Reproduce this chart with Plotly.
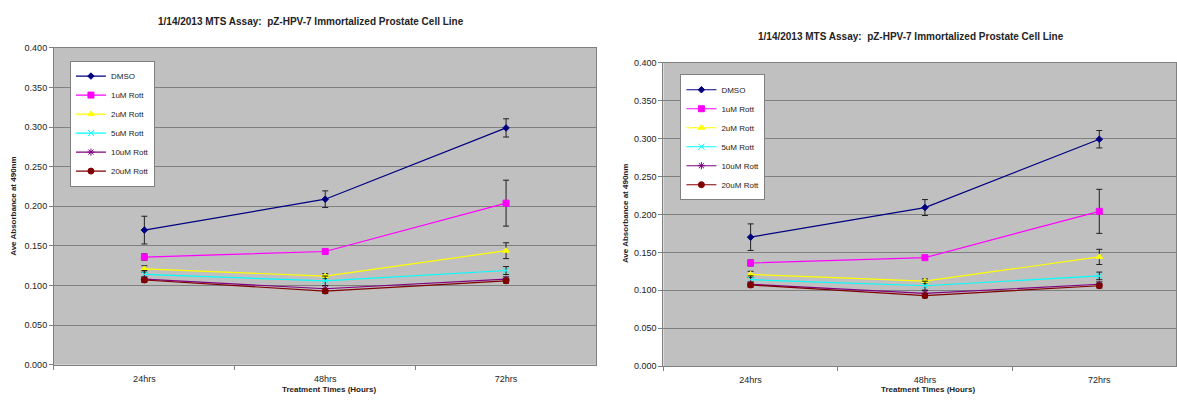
import plotly.graph_objects as go

categories = ["24hrs", "48hrs", "72hrs"]
series_names = ["DMSO", "1uM Rott", "2uM Rott", "5uM Rott", "10uM Rott", "20uM Rott"]
dmso = [0.170, 0.209, 0.299]
rott_1uM = [0.136, 0.143, 0.204]
rott_2uM = [0.121, 0.112, 0.144]
rott_5uM = [0.114, 0.106, 0.119]
rott_10uM = [0.108, 0.096, 0.108]
rott_20uM = [0.107, 0.093, 0.106]
err_dmso = [0.0175, 0.0105, 0.0115]
err_1uM = [0.004, 0.002, 0.029]
err_2uM = [0.004, 0.003, 0.010]
err_5uM = [0.005, 0.006, 0.005]
err_10uM = [0.003, 0.004, 0.003]
err_20uM = [0.003, 0.003, 0.003]
y_ticks = [0.0, 0.05, 0.1, 0.15, 0.2, 0.25, 0.3, 0.35, 0.4]

values = [dmso, rott_1uM, rott_2uM, rott_5uM, rott_10uM, rott_20uM]
errors = [err_dmso, err_1uM, err_2uM, err_5uM, err_10uM, err_20uM]
colors = ["#000080", "#FF00FF", "#FFFF00", "#00FFFF", "#800080", "#800000"]
symbols = ["diamond", "square", "triangle-up", "x-thin-open", "asterisk-open", "circle"]
sizes = [5, 6, 6, 6, 6, 6]

W, H = 1177, 400
FONT = "Liberation Sans, Arial, sans-serif"

fig = go.Figure()
for panel, (xa, ya, lg) in enumerate([("x", "y", "legend"), ("x2", "y2", "legend2")]):
    for name, v, e, c, s, sz in zip(series_names, values, errors, colors, symbols, sizes):
        fig.add_trace(go.Scatter(
            x=categories, y=v, name=name, mode="lines+markers",
            xaxis=xa, yaxis=ya, legend=lg,
            line=dict(color=c, width=1.2),
            marker=dict(symbol=s, size=sz, color=c, line=dict(color=c, width=1)),
            error_y=dict(type="data", array=e, visible=True, color="#202020",
                         thickness=1, width=3),
        ))

def px_x(px):
    return px / W

def px_y(py):
    return 1 - py / H

axis_common = dict(
    zeroline=False, showline=True, linecolor="#808080", linewidth=1,
    mirror=True, ticks="outside", ticklen=4, tickcolor="#808080",
    tickfont=dict(family=FONT, size=9, color="#222222"),
)

fig.update_layout(
    width=W, height=H,
    margin=dict(l=0, r=0, t=0, b=0),
    paper_bgcolor="white", plot_bgcolor="#C0C0C0",
    showlegend=True,
    xaxis=dict(domain=[px_x(54), px_x(597)], anchor="y", type="category",
               range=[-0.5, 2.5], tickson="boundaries", showgrid=False,
               ticklabelstandoff=5, **axis_common),
    yaxis=dict(domain=[px_y(369), px_y(44)], anchor="x", range=[0, 0.4],
               tickvals=y_ticks, tickformat=".3f", showgrid=True,
               gridcolor="#808080", gridwidth=1.2, **axis_common),
    xaxis2=dict(domain=[px_x(664), 1.0], anchor="y2", type="category",
                range=[-0.5, 2.44], tickson="boundaries", showgrid=False,
                ticklabelstandoff=5, **axis_common),
    yaxis2=dict(domain=[px_y(370.5), px_y(59)], anchor="x2", range=[0, 0.4],
                tickvals=y_ticks, tickformat=".3f", showgrid=True,
                gridcolor="#808080", gridwidth=1.2, **axis_common),
    legend=dict(x=px_x(70), y=px_y(57), xanchor="left", yanchor="top",
                bgcolor="white", bordercolor="#808080", borderwidth=1,
                font=dict(family=FONT, size=8, color="#222222"),
                tracegroupgap=0, itemwidth=30),
    legend2=dict(x=px_x(681), y=px_y(71), xanchor="left", yanchor="top",
                 bgcolor="white", bordercolor="#808080", borderwidth=1,
                 font=dict(family=FONT, size=8, color="#222222"),
                 tracegroupgap=0, itemwidth=30),
)

title_text = "1/14/2013 MTS Assay:  pZ-HPV-7 Immortalized Prostate Cell Line"
ann = []
ann.append(dict(text="<b>" + title_text + "</b>", x=px_x(311), y=px_y(17)))
ann.append(dict(text="<b>" + title_text + "</b>", x=px_x(912), y=px_y(32)))
ann.append(dict(text="<b>Treatment Times (Hours)</b>", x=px_x(329), y=px_y(394.5), size=8))
ann.append(dict(text="<b>Treatment Times (Hours)</b>", x=px_x(929), y=px_y(394.5), size=8))
for a in ann:
    fig.add_annotation(text=a["text"], x=a["x"], y=a["y"], xref="paper", yref="paper",
                       showarrow=False, xanchor="center", yanchor="middle",
                       font=dict(family=FONT, size=a.get("size", 10), color="#222222"))
for xpx, ypx in [(14, 206), (626, 214)]:
    fig.add_annotation(text="<b>Ave Absorbance at 490nm</b>", x=px_x(xpx), y=px_y(ypx),
                       xref="paper", yref="paper", showarrow=False, textangle=-90,
                       xanchor="center", yanchor="middle",
                       font=dict(family=FONT, size=8, color="#222222"))

fig.write_html("out.html", config={"displayModeBar": False},
               post_script="document.body.style.margin='0';document.body.style.overflow='hidden';")
